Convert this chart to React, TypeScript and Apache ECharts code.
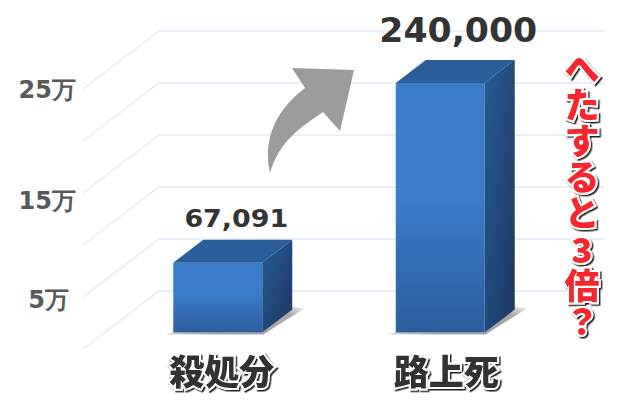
import React, { useEffect, useRef } from "react";
import * as echarts from "echarts";

const categories = ["殺処分", "路上死"];
const values = [67091, 240000];
const valueLabels = ["67,091", "240,000"];
const gridValues = [0, 50000, 100000, 150000, 200000, 250000];
const tickLabels: Record<number, string> = { 50000: "5万", 150000: "15万", 250000: "25万" };
const sideCaption = ["へ", "た", "す", "る", "と", "3", "倍", "？"];

const WALL = { dx: 76, dy: -58 };
const BAR_OFFSET = { dx: 23.5, dy: -16.5 };
const BAR_DEPTH = { dx: 30, dy: -23 };
const CJK = '"Noto Sans CJK JP", sans-serif';
const LABEL_STYLE = [
  { size: 24, scaleX: 1.12, dx: 18.5, dy: -9 },
  { size: 34, scaleX: 1.02, dx: 18, dy: -13 },
];

echarts.graphic.registerShape(
  "bigArrow",
  echarts.graphic.extendPath("M292 68 L354 70 L340 131 L323 112 C300 128 280 140 270 173 C264 145 270 115 305 88 Z", {})
);

const vGrad = (a: string, b: string) => new echarts.graphic.LinearGradient(0, 0, 0, 1, [
  { offset: 0, color: a }, { offset: 0.45, color: a }, { offset: 1, color: b },
]);

function renderGridLine(params: any, api: any) {
  const v = api.value(0);
  const p = api.coord([0, v]);
  const gridRect = params.coordSys;
  const left = gridRect.x;
  const right = gridRect.x + gridRect.width + WALL.dx;
  return {
    type: "polyline",
    silent: true,
    shape: { points: [[left, p[1]], [left + WALL.dx, p[1] + WALL.dy], [right, p[1] + WALL.dy]] },
    style: { fill: "none", stroke: v <= 50000 ? "#e1e9f6" : "#d3dff0", lineWidth: v <= 50000 ? 1.5 : 1 },
  };
}

function renderBar(params: any, api: any) {
  const base = api.coord([api.value(0), 0]);
  const top = api.coord([api.value(0), api.value(1)]);
  const w = api.size([1, 0])[0] * 0.4;
  const x0 = base[0] + BAR_OFFSET.dx - w / 2;
  const x1 = x0 + w;
  const y0 = top[1] + BAR_OFFSET.dy;
  const y1 = base[1] + BAR_OFFSET.dy;
  const d = BAR_DEPTH;
  const ls = LABEL_STYLE[params.dataIndex];
  return {
    type: "group",
    children: [
      {
        type: "polygon",
        shape: { points: [[x0 - 8, y1 + 2], [x1 + 1, y1 + 2], [x1 + d.dx + 12, y1 + d.dy - 1], [x1 + d.dx, y1 + d.dy - 3], [x1, y1], [x0, y1]] },
        style: {
          fill: new echarts.graphic.LinearGradient(0, 1, 1, 0, [
            { offset: 0, color: "#d8d8d8" }, { offset: 0.2, color: "#a6a6a6" }, { offset: 0.8, color: "#a8a8a8" }, { offset: 1, color: "#efefef" },
          ]),
        },
      },
      { type: "rect", shape: { x: x0, y: y0, width: w, height: y1 - y0 }, style: { fill: vGrad("#3b7bcb", "#2d5d9e") } },
      {
        type: "polygon",
        shape: { points: [[x0, y0], [x0 + d.dx, y0 + d.dy], [x1 + d.dx, y0 + d.dy], [x1, y0]] },
        style: { fill: "#2b5d99" },
      },
      {
        type: "polygon",
        shape: { points: [[x1, y0], [x1 + d.dx, y0 + d.dy], [x1 + d.dx, y1 + d.dy], [x1, y1]] },
        style: {
          fill: new echarts.graphic.LinearGradient(0, 0, 1, 1, [
            { offset: 0, color: "#2a5a94" }, { offset: 1, color: "#193860" },
          ]),
        },
      },
      {
        type: "text",
        x: base[0] + BAR_OFFSET.dx + ls.dx,
        y: y0 + d.dy + ls.dy,
        scaleX: ls.scaleX,
        style: {
          text: valueLabels[params.dataIndex],
          align: "center",
          verticalAlign: "bottom",
          fontFamily: '"DejaVu Sans", sans-serif',
          fontWeight: "bold",
          fontSize: ls.size,
          fill: "#333333",
        },
      },
    ],
  };
}

const catStyle = {
  fontFamily: CJK, fontWeight: 900, fontSize: 35, color: "#333333",
  textBorderColor: "#ffffff", textBorderWidth: 4, textShadowColor: "#222222", textShadowOffsetX: 1.5, textShadowOffsetY: 1.5, textShadowBlur: 0.5,
};
const tickStyle = { fontFamily: '"DejaVu Sans", sans-serif', fontWeight: "bold", fontSize: 24, color: "#595959" };

export default function App() {
  const ref = useRef<HTMLDivElement>(null);
  useEffect(() => {
    document.body.style.margin = "0";
    const chart = echarts.init(ref.current!, null, { renderer: "svg" });
    chart.setOption({
      animation: false,
      backgroundColor: "#ffffff",
      grid: { left: 83, right: 96, top: 89, bottom: 55, containLabel: false },
      xAxis: {
        type: "category",
        data: categories,
        axisLine: { show: false },
        axisTick: { show: false },
        axisLabel: {
          margin: 3,
          formatter: (v: string, i: number) => `{c${i}|${v}}`,
          rich: {
            c0: { ...catStyle, padding: [0, 0, 0, 55] },
            c1: { ...catStyle, padding: [0, 0, 0, 59] },
          },
        },
      },
      yAxis: {
        type: "value",
        min: 0,
        max: 250000,
        interval: 50000,
        splitLine: { show: false },
        axisLine: { show: false },
        axisTick: { show: false },
        axisLabel: {
          margin: 7,
          formatter: (v: number) => {
            const t = tickLabels[v];
            if (!t) return "";
            return v === 250000 ? `{a|${t}}` : v === 150000 ? `{b|${t}}` : `{c|${t}}`;
          },
          rich: {
            a: { ...tickStyle, padding: [2, 0, 0, 0] },
            b: { ...tickStyle, padding: [15, 0, 0, 0] },
            c: { ...tickStyle, padding: [6, 7, 0, 0] },
          },
        },
      },
      series: [
        { type: "custom", coordinateSystem: "cartesian2d", renderItem: renderGridLine, data: gridValues.map((v) => [v]), encode: { y: 0 }, silent: true, z: 1 },
        { type: "custom", coordinateSystem: "cartesian2d", renderItem: renderBar, data: values.map((v, i) => [i, v]), encode: { x: 0, y: 1 }, silent: true, z: 2 },
      ],
      graphic: [
        { type: "bigArrow", x: 0, y: 0, z: 10, silent: true, style: { fill: "#9b9b9b" } },
        {
          type: "text",
          x: 582,
          y: 48,
          z: 11,
          silent: true,
          style: {
            text: sideCaption.join("\n"),
            align: "center",
            verticalAlign: "top",
            fontFamily: CJK,
            fontWeight: 900,
            fontSize: 35,
            lineHeight: 36.2,
            fill: "#f5282f",
            stroke: "#ffffff",
            lineWidth: 4,
            textShadowColor: "#222222",
            textShadowOffsetX: 1.5,
            textShadowOffsetY: 1.5,
            textShadowBlur: 0.5,
          },
        },
      ],
    });
    return () => chart.dispose();
  }, []);
  return <div ref={ref} style={{ width: 624, height: 404 }} />;
}
